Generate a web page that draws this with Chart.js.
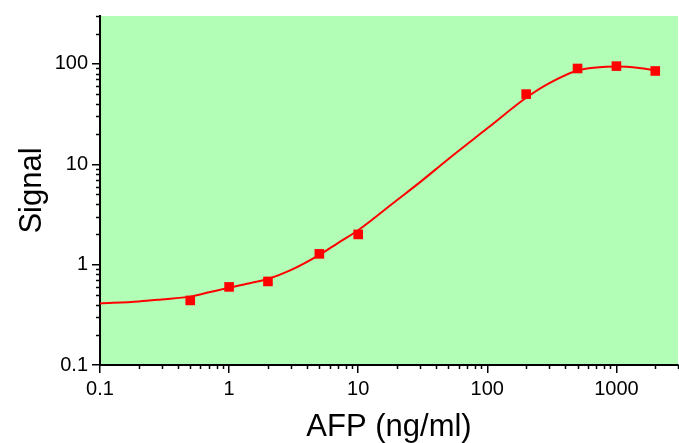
<!DOCTYPE html>
<html>
<head>
<meta charset="utf-8">
<script src="https://cdn.jsdelivr.net/npm/chart.js@4.4.1/dist/chart.umd.min.js"></script>
<style>
  html, body { margin: 0; padding: 0; background: #ffffff; }
  #chart { display: block; }
</style>
</head>
<body>
<canvas id="chart" width="679" height="443"></canvas>
<script>
// measured points
var afpConc = [0.5, 1, 2, 5, 10, 200, 500, 1000, 2000];
var signal = [0.44, 0.6, 0.68, 1.28, 2.0, 50, 90, 95, 85];

// fitted curve
var fitConc = [0.1, 0.2, 0.3, 0.5, 0.7, 1, 1.5, 2, 3, 5, 7, 10, 20, 30, 50, 100, 200, 300, 500, 700, 1000, 1500, 2000];
var fitSignal = [0.41, 0.43, 0.45, 0.48, 0.53, 0.59, 0.66, 0.72, 0.88, 1.25, 1.65, 2.2, 4.4, 6.6, 11.3, 22.8, 46, 64, 86, 92, 94, 91, 86];

var xTicks = [0.1, 1, 10, 100, 1000];
var yTicks = [0.1, 1, 10, 100];

var xMin = 0.1, xMax = 3000;
var yMin = 0.1, yMax = 300;

var fontFamily = '"Liberation Sans", Arial, sans-serif';

function toPoints(xs, ys) {
    var pts = [];
    for (var i = 0; i < xs.length; i++) {
        pts.push({ x: xs[i], y: ys[i] });
    }
    return pts;
}

function fmt(v) {
    return v < 1 ? v.toString() : Math.round(v).toString();
}

var plotBackground = { // green plot area
    id: 'plotBackground',
    beforeDraw: function (chart) {
        var a = chart.chartArea;
        var ctx = chart.ctx;
        ctx.save();
        ctx.fillStyle = '#b2feb6';
        ctx.fillRect(a.left, a.top, a.right - a.left, a.bottom - a.top);
        ctx.restore();
    }
};

var minorTicks = { // short log ticks between the decades
    id: 'minorTicks',
    afterDraw: function (chart) {
        var ctx = chart.ctx;
        var a = chart.chartArea;
        var xs = chart.scales.x, ys = chart.scales.y;
        ctx.save();
        ctx.strokeStyle = '#000000';
        ctx.lineWidth = 1.5;
        ctx.beginPath();
        for (var d = 0.1; d < xMax; d *= 10) {
            for (var m = 2; m <= 9; m++) {
                var v = d * m;
                if (v > xMax * 1.0001) continue;
                var px = Math.round(xs.getPixelForValue(v)) + 0.5;
                ctx.moveTo(px, a.bottom);
                ctx.lineTo(px, a.bottom + 4);
            }
        }
        for (var e = 0.1; e < yMax; e *= 10) {
            for (var k = 2; k <= 9; k++) {
                var w = e * k;
                if (w > yMax * 1.0001) continue;
                var py = Math.round(ys.getPixelForValue(w)) + 0.5;
                ctx.moveTo(a.left - 4, py);
                ctx.lineTo(a.left, py);
            }
        }
        ctx.stroke();
        ctx.restore();
    }
};

var ctx = document.getElementById('chart');
var chart = new Chart(ctx, {
    type: 'scatter',
    data: {
        datasets: [{
            label: 'Signal',
            data: toPoints(afpConc, signal),
            showLine: false,
            pointStyle: 'rect',
            pointRadius: 6.8,
            pointBackgroundColor: '#ff0000',
            pointBorderWidth: 0,
            borderColor: '#ff0000'
        }, {
            label: 'Fit',
            data: toPoints(fitConc, fitSignal),
            showLine: true,
            pointRadius: 0,
            borderColor: '#ff0000',
            borderWidth: 2,
            tension: 0.4,
            cubicInterpolationMode: 'monotone'
        }]
    },
    options: {
        responsive: false,
        animation: false,
        devicePixelRatio: 1,
        layout: { autoPadding: false, padding: { top: 16, right: 1, left: 0, bottom: 0 } },
        plugins: {
            legend: { display: false },
            tooltip: { enabled: false }
        },
        scales: {
            x: {
                type: 'logarithmic',
                min: xMin,
                max: xMax,
                afterBuildTicks: function (scale) {
                    scale.ticks = xTicks.map(function (v) { return { value: v }; });
                },
                afterFit: function (scale) {
                    scale.height = 78;
                    scale.paddingLeft = 0;
                    scale.paddingRight = 0;
                },
                border: { display: true, color: '#000000', width: 2 },
                grid: { drawOnChartArea: false, drawTicks: true, tickLength: 8, tickColor: '#000000', lineWidth: 1.5 },
                ticks: {
                    color: '#000000',
                    padding: 4,
                    maxRotation: 0,
                    autoSkip: false,
                    font: { family: fontFamily, size: 20 },
                    callback: function (v) { return fmt(v); }
                },
                title: {
                    display: true,
                    text: 'AFP (ng/ml)',
                    color: '#000000',
                    padding: { top: 0, bottom: 0 },
                    font: { family: fontFamily, size: 31, lineHeight: 1.03 }
                }
            },
            y: {
                type: 'logarithmic',
                min: yMin,
                max: yMax,
                afterBuildTicks: function (scale) {
                    scale.ticks = yTicks.map(function (v) { return { value: v }; });
                },
                afterFit: function (scale) { scale.width = 100; },
                border: { display: true, color: '#000000', width: 2 },
                grid: { drawOnChartArea: false, drawTicks: true, tickLength: 8, tickColor: '#000000', lineWidth: 1.5 },
                ticks: {
                    color: '#000000',
                    padding: 4,
                    autoSkip: false,
                    font: { family: fontFamily, size: 20 },
                    callback: function (v) { return fmt(v); }
                },
                title: {
                    display: true,
                    text: 'Signal',
                    color: '#000000',
                    padding: { top: 14, bottom: 0 },
                    font: { family: fontFamily, size: 31 }
                }
            }
        }
    },
    plugins: [plotBackground, minorTicks]
});
</script>
</body>
</html>
